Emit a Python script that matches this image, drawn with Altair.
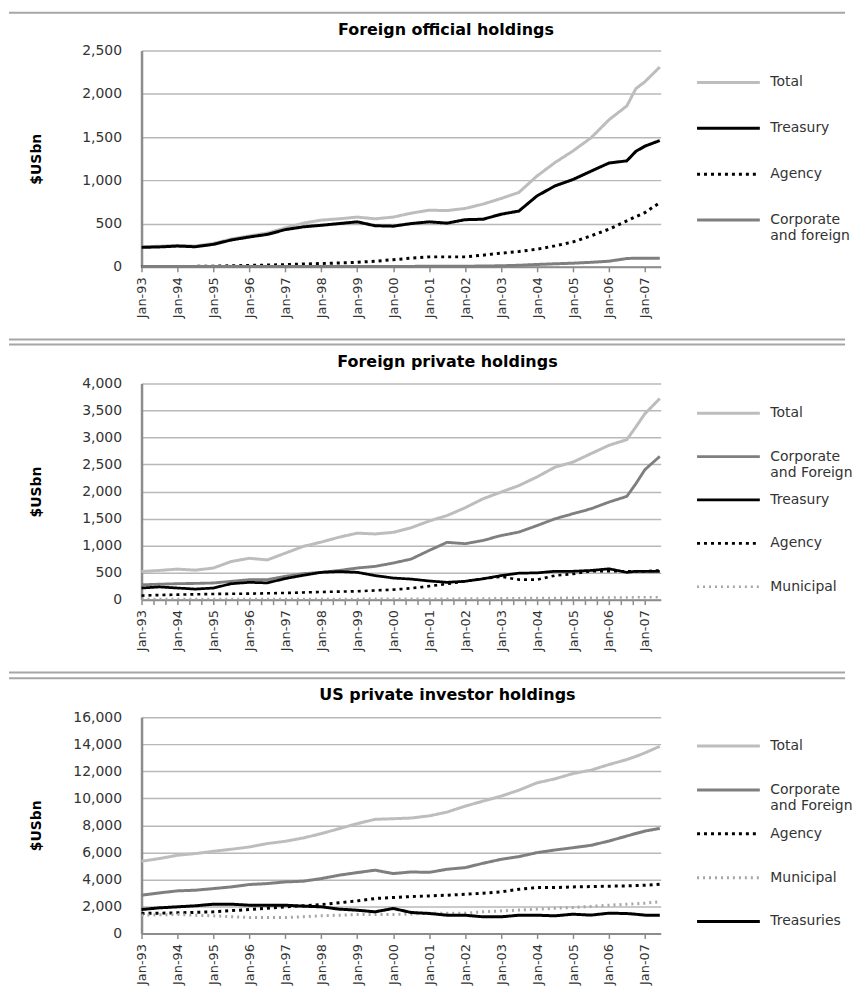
import altair as alt
import pandas as pd

# ---- dates (semi-annual readings, plus late-2006/2007 detail) ----
dates = ["1993-01-01", "1993-07-01", "1994-01-01", "1994-07-01", "1995-01-01", "1995-07-01",
         "1996-01-01", "1996-07-01", "1997-01-01", "1997-07-01", "1998-01-01", "1998-07-01",
         "1999-01-01", "1999-07-01", "2000-01-01", "2000-07-01", "2001-01-01", "2001-07-01",
         "2002-01-01", "2002-07-01", "2003-01-01", "2003-07-01", "2004-01-01", "2004-07-01",
         "2005-01-01", "2005-07-01", "2006-01-01", "2006-07-01", "2006-10-01", "2007-01-01",
         "2007-06-01"]

# ---- Panel 1: Foreign official holdings ($US bn) ----
off_total = [232, 238, 248, 240, 270, 322, 357, 390, 450, 505, 540, 555, 575, 555, 575, 620,
             655, 650, 675, 725, 790, 860, 1050, 1205, 1340, 1490, 1700, 1860, 2060, 2140, 2310]
off_treasury = [225, 230, 240, 232, 260, 310, 345, 375, 430, 462, 480, 500, 520, 475, 470, 500,
                520, 505, 545, 550, 608, 645, 820, 935, 1010, 1105, 1200, 1225, 1335, 1395, 1460]
off_agency = [3, 3, 4, 5, 8, 12, 16, 20, 25, 32, 38, 45, 52, 65, 82, 100,
              115, 115, 115, 135, 158, 177, 204, 242, 288, 358, 435, 531, 580, 627, 742]
off_corporate = [3, 3, 3, 3, 3, 3, 3, 3, 4, 4, 4, 4, 4, 5, 5, 5,
                 6, 6, 7, 9, 12, 18, 27, 35, 42, 52, 65, 96, 100, 100, 100]

# ---- Panel 2: Foreign private holdings ($US bn) ----
prv_total = [520, 540, 565, 545, 585, 705, 765, 735, 860, 985, 1065, 1155, 1230, 1215, 1245, 1330,
             1455, 1555, 1700, 1865, 1990, 2110, 2270, 2450, 2545, 2700, 2855, 2960, 3195, 3440, 3720]
prv_corporate = [275, 285, 295, 300, 308, 338, 369, 369, 431, 480, 505, 540, 585, 615, 677, 750,
                 910, 1060, 1035, 1095, 1185, 1250, 1370, 1495, 1590, 1680, 1805, 1910, 2145, 2405, 2650]
prv_treasury = [215, 235, 215, 195, 215, 295, 320, 310, 390, 450, 505, 520, 505, 445, 400, 380,
                345, 320, 340, 385, 445, 490, 495, 525, 525, 540, 570, 505, 525, 525, 525]
prv_agency = [75, 85, 92, 98, 105, 108, 111, 117, 123, 133, 142, 148, 154, 170, 185, 210,
              250, 290, 340, 385, 425, 370, 370, 445, 475, 525, 525, 525, 520, 525, 540]
prv_municipal = [10, 10, 10, 10, 10, 10, 10, 10, 12, 12, 12, 14, 14, 15, 15, 16,
                 18, 18, 20, 22, 25, 28, 30, 32, 34, 36, 38, 40, 43, 45, 45]

# ---- Panel 3: US private investor holdings ($US bn) ----
us_total = [5340, 5540, 5785, 5910, 6080, 6230, 6400, 6650, 6820, 7065, 7385, 7755, 8125, 8445, 8490, 8540,
            8700, 8980, 9420, 9790, 10160, 10600, 11145, 11440, 11835, 12080, 12500, 12865, 13100, 13360, 13850]
us_corporate = [2830, 3000, 3150, 3200, 3320, 3445, 3620, 3690, 3815, 3865, 4060, 4310, 4505, 4680, 4430, 4550,
                4520, 4750, 4870, 5190, 5485, 5685, 5980, 6175, 6345, 6520, 6840, 7210, 7400, 7575, 7775]
us_agency = [1480, 1500, 1525, 1560, 1600, 1690, 1770, 1870, 1970, 2050, 2140, 2265, 2410, 2585, 2660, 2730,
             2780, 2830, 2900, 2980, 3075, 3270, 3395, 3395, 3445, 3470, 3495, 3520, 3540, 3565, 3640]
us_municipal = [1355, 1380, 1405, 1350, 1305, 1240, 1180, 1180, 1180, 1240, 1305, 1350, 1400, 1400, 1400, 1440,
                1500, 1500, 1500, 1600, 1670, 1730, 1800, 1860, 1920, 2000, 2090, 2160, 2200, 2240, 2340]
us_treasuries = [1770, 1895, 1970, 2045, 2165, 2165, 2090, 2090, 2090, 2020, 1970, 1800, 1720, 1600, 1850, 1550,
                 1480, 1350, 1350, 1230, 1230, 1350, 1350, 1305, 1425, 1355, 1500, 1475, 1420, 1355, 1355]

# ---- tick labels ----
x_tick_years = list(range(1993, 2008))
x_tick_months_yearly = [1]
x_tick_months_4m = [1, 5, 9]
y_ticks_1 = [0, 500, 1000, 1500, 2000, 2500]
y_ticks_2 = [0, 500, 1000, 1500, 2000, 2500, 3000, 3500, 4000]
y_ticks_3 = [0, 2000, 4000, 6000, 8000, 10000, 12000, 14000, 16000]

FONT = "DejaVu Sans"
LABEL_COLOR = "#333333"
AXIS_GRAY = "#8c8c8c"


def long_frame(series_dict):
    rows = []
    for name, vals in series_dict.items():
        for d, v in zip(dates, vals):
            rows.append({"date": d, "series": name, "value": v})
    return pd.DataFrame(rows)


def separator(yv):
    return alt.Chart(alt.Data(values=[{}])).mark_rule(color="#a6a6a6", strokeWidth=2).encode(
        x=alt.value(-133), x2=alt.value(706), y=alt.value(yv))


def panel(title, series_dict, order, colors, dashes, widths, yticks, ymax, title_offset, seps,
          legend_y, row_pad, tick_months):
    df = long_frame(series_dict)
    legend = alt.Legend(
        title=None, orient="none", legendX=556, legendY=legend_y,
        symbolType="stroke", symbolSize=3969, labelOffset=9, clipHeight=16,
        labelFont=FONT, labelFontSize=14, labelColor=LABEL_COLOR, labelLimit=120,
        rowPadding=row_pad, gridAlign="all", labelBaseline="middle",
        labelExpr="indexof(datum.label, ' and ') > 0 ? split(replace(datum.label, ' and ', '|and '), '|') : datum.label",
    )
    tick_values = [alt.DateTime(year=yr, month=m, date=1, utc=True)
                   for yr in x_tick_years for m in tick_months
                   if not (yr == 2007 and m > 1)]
    x = alt.X(
        "date:T",
        scale=alt.Scale(type="utc", domain=[alt.DateTime(year=1993, month=1, date=1, utc=True),
                                            alt.DateTime(year=2007, month=6, date=10, utc=True)]),
        axis=alt.Axis(
            values=tick_values, format="%b-%y",
            labelExpr="utcmonth(datum.value) == 0 ? datum.label : ''",
            labelAngle=270, labelFont=FONT, labelFontSize=13, labelColor=LABEL_COLOR,
            tickSize=5, tickColor=AXIS_GRAY, tickWidth=1.5, domainColor=AXIS_GRAY, domainWidth=2,
            grid=False, title=None, labelPadding=5, labelOverlap=False,
        ),
    )
    y = alt.Y(
        "value:Q",
        scale=alt.Scale(domain=[0, ymax], nice=False),
        axis=alt.Axis(
            values=yticks, format=",d", title="$USbn", titleFont=FONT, titleFontSize=14,
            titleFontWeight="bold", titleColor="#000000", labelFont=FONT, labelFontSize=14,
            labelColor=LABEL_COLOR, labelPadding=20, ticks=False, domainColor=AXIS_GRAY,
            domainWidth=2.5, gridColor="#b8b8b8", gridWidth=1.5, minExtent=70, maxExtent=70,
            titlePadding=28,
        ),
    )
    lines = alt.Chart(df).mark_line().encode(
        x=x, y=y,
        color=alt.Color("series:N", scale=alt.Scale(domain=order, range=colors), legend=legend),
        strokeDash=alt.StrokeDash("series:N", scale=alt.Scale(domain=order, range=dashes), legend=legend),
        strokeWidth=alt.StrokeWidth("series:N", scale=alt.Scale(domain=order, range=widths), legend=legend),
    )
    layers = [lines] + [separator(v) for v in seps]
    return alt.layer(*layers).properties(
        width=521, height=217,
        title=alt.TitleParams(title, font=FONT, fontSize=16, fontWeight="bold", color="#000000",
                              anchor="middle", frame="bounds", offset=title_offset, dx=17),
    )


p1 = panel(
    "Foreign official holdings",
    {"Total": off_total, "Treasury": off_treasury, "Agency": off_agency,
     "Corporate and foreign": off_corporate},
    ["Total", "Treasury", "Agency", "Corporate and foreign"],
    ["#bdbdbd", "#000000", "#000000", "#7f7f7f"],
    [[1, 0], [1, 0], [3, 4], [1, 0]],
    [3, 3, 3, 3],
    y_ticks_1, 2500, -26, [-38], 24, 15, x_tick_months_yearly,
)
p2 = panel(
    "Foreign private holdings",
    {"Total": prv_total, "Corporate and Foreign": prv_corporate, "Treasury": prv_treasury,
     "Agency": prv_agency, "Municipal": prv_municipal},
    ["Total", "Corporate and Foreign", "Treasury", "Agency", "Municipal"],
    ["#bdbdbd", "#7f7f7f", "#000000", "#000000", "#a6a6a6"],
    [[1, 0], [1, 0], [1, 0], [3, 4], [2, 4]],
    [3, 2.5, 3, 2.5, 2],
    y_ticks_2, 4000, -32, [-44, -39], 22, 12.5, x_tick_months_4m,
)
p3 = panel(
    "US private investor holdings",
    {"Total": us_total, "Corporate and Foreign": us_corporate, "Agency": us_agency,
     "Municipal": us_municipal, "Treasuries": us_treasuries},
    ["Total", "Corporate and Foreign", "Agency", "Municipal", "Treasuries"],
    ["#bdbdbd", "#7f7f7f", "#000000", "#a6a6a6", "#000000"],
    [[1, 0], [1, 0], [3, 4], [2, 4], [1, 0]],
    [3, 3, 3, 2.5, 2],
    y_ticks_3, 16000, -32, [-45, -39], 21, 13, x_tick_months_yearly,
)

chart = alt.vconcat(p1, p2, p3, spacing=20).resolve_scale(
    color="independent", strokeDash="independent", strokeWidth="independent"
).properties(
    padding={"left": 0, "top": 2, "right": 0, "bottom": 0},
    background="white",
).configure_view(strokeWidth=0)

chart.save("out.html", embed_options={"renderer": "svg", "actions": False})
